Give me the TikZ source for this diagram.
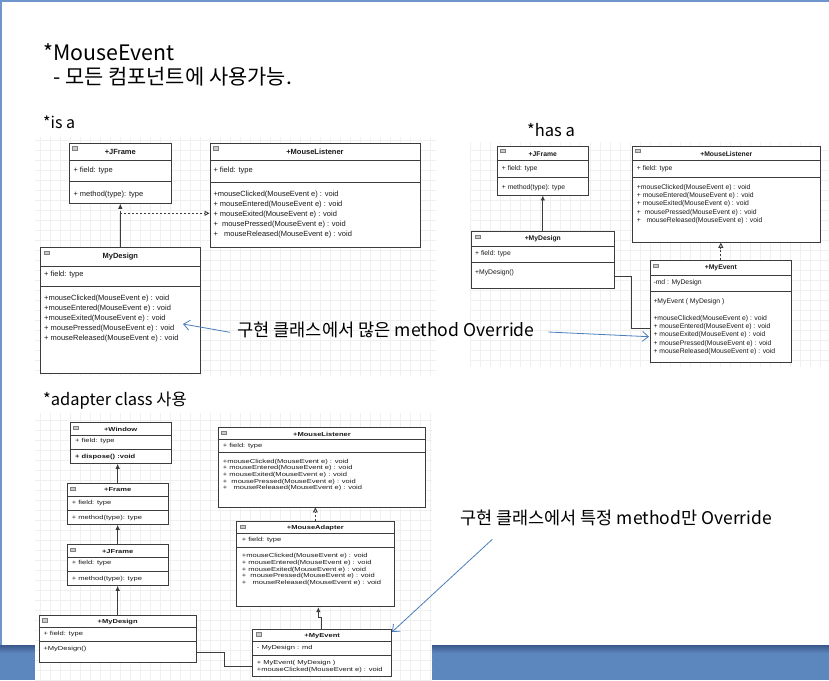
\documentclass[tikz,border=0pt]{standalone}
\usepackage{fontspec}
\setmainfont{Liberation Sans}
\newfontfamily\kr{Noto Sans CJK KR}
\newfontfamily\bfn[FakeStretch=1.3]{Liberation Sans}
\usetikzlibrary{arrows.meta,fit}
\definecolor{ln}{RGB}{60,60,60}
\definecolor{tx}{RGB}{25,25,25}
\definecolor{ab}{RGB}{74,126,187}
\definecolor{band}{RGB}{92,134,190}
\definecolor{bandd}{RGB}{58,88,138}
\definecolor{grd}{RGB}{240,240,240}
\definecolor{brd}{RGB}{110,150,205}
\tikzset{
  umlbox/.style={draw=ln, line width=0.9pt, inner sep=0pt, fill=white},
  uline/.style={draw=ln, line width=0.9pt},
  ic/.style={draw=gray, fill=gray!40, line width=0.4pt},
  ta/.style={inner sep=0pt, text=tx, font=\fontsize{7.5}{9}\selectfont},
  tah/.style={inner sep=0pt, text=tx, font=\bfseries\fontsize{7.5}{9}\selectfont},
  tb/.style={inner sep=0pt, text=tx, font=\fontsize{6.8}{8}\selectfont},
  tbh/.style={inner sep=0pt, text=tx, font=\bfseries\fontsize{6.8}{8}\selectfont},
  tc/.style={inner sep=0pt, text=tx, font=\bfn\fontsize{5.8}{7}\selectfont},
  tch/.style={inner sep=0pt, text=tx, font=\bfn\bfseries\fontsize{5.8}{7}\selectfont},
  gen/.style={draw=ln, line width=0.9pt, -{Latex[length=5pt,width=4.5pt]}},
  real/.style={draw=ln, line width=0.9pt, dashed, dash pattern=on 2pt off 2pt, -{Triangle[open,length=5pt,width=5pt]}},
  aarr/.style={draw=ab, line width=0.8pt, -{Straight Barb[length=6pt,width=10pt]}},
  krt/.style={inner sep=0pt, anchor=base west, text=black},
}
\newcommand\umlc[7]{%
  \node[umlbox, fit={(#2,#3)(#4,#5)}] (#1) {};
  \draw[uline] (#2,#6) -- (#4,#6);
  \draw[uline] (#2,#7) -- (#4,#7);
  \draw[ic] (#2+3,#3+3) rectangle ++(5,3.5);
}
\newcommand\mlines[6]{%
  \foreach \s [count=\i] in #2 {\node[#6, anchor=west] (#1\i) at (#3, {#4+(\i-1)*#5}) {\s};}%
}
\def\mlListener{{+mouseClicked(MouseEvent e) : void},{+ mouseEntered(MouseEvent e) : void},{+ mouseExited(MouseEvent e) : void},{+\ \ mousePressed(MouseEvent e) : void},{+\ \ \ mouseReleased(MouseEvent e) : void}}
\def\mlDesign{{+mouseClicked(MouseEvent e) : void},{+mouseEntered(MouseEvent e) : void},{+mouseExited(MouseEvent e) : void},{+ mousePressed(MouseEvent e) : void},{+ mouseReleased(MouseEvent e) : void}}
\def\mlEvent{{+mouseClicked(MouseEvent e) : void},{+ mouseEntered(MouseEvent e) : void},{+ mouseExited(MouseEvent e) : void},{+ mousePressed(MouseEvent e) : void},{+ mouseReleased(MouseEvent e) : void}}
\begin{document}
\begin{tikzpicture}[x=1pt,y=-1pt]
\useasboundingbox (0,0) rectangle (829,680);
\fill[white] (0,0) rectangle (829,680);
% slide border and bottom band
\fill[brd] (0,0) rectangle (829,1.5);
\fill[brd] (0,0) rectangle (1.5,680);
\fill[band] (0,645) rectangle (829,680);
\shade[top color=bandd, bottom color=band] (0,645) rectangle (829,653);
% screenshot backgrounds with grid
\begin{scope}
  \clip (35,137) rectangle (436,375);
  \fill[white] (35,137) rectangle (436,375);
  \draw[grd, line width=0.5pt, step=10pt] (30,130) grid (440,380);
\end{scope}
\begin{scope}
  \clip (470,142) rectangle (829,366);
  \fill[white] (470,142) rectangle (829,366);
  \draw[grd, line width=0.5pt, step=10pt] (460,140) grid (830,370);
\end{scope}
\begin{scope}
  \clip (35,413) rectangle (432,680);
  \fill[white] (35,413) rectangle (432,680);
  \draw[grd, line width=0.5pt, step=10pt] (30,410) grid (440,680);
\end{scope}
% titles
\node[krt, font=\kr\fontsize{21.3}{25}\selectfont] (t1) at (43,60) {*MouseEvent};
\node[krt, font=\kr\fontsize{20.9}{25}\selectfont] (t2) at (53,84) {- 모든 컴포넌트에 사용가능.};
\node[krt, font=\kr\fontsize{16}{19}\selectfont] (t3) at (43,128) {*is a};
\node[krt, font=\kr\fontsize{16.5}{19}\selectfont] (t4) at (527,136) {*has a};
\node[krt, font=\kr\fontsize{16.5}{19}\selectfont] (t5) at (43,405) {*adapter class 사용};
% ---------- top-left: is a ----------
\umlc{tlJF}{69.3}{143.3}{171.3}{203.3}{160.3}{181.7}
\node[tah] (tlJFn) at (120.3,152.3) {+JFrame};
\node[ta,anchor=west] (tlJFf) at (73.3,171) {+ field: type};
\node[ta,anchor=west] (tlJFm) at (73.3,194.3) {+ method(type): type};
\umlc{tlML}{210}{143.3}{420}{247.7}{160.3}{182.3}
\node[tah] (tlMLn) at (315,152.3) {+MouseListener};
\node[ta,anchor=west] (tlMLf) at (213.3,171) {+ field: type};
\mlines{tlMLm}{\mlListener}{213.3}{194.3}{10}{ta}
\umlc{tlMD}{40.7}{247.7}{200}{373.3}{266}{286}
\node[tah] (tlMDn) at (120.3,256.7) {MyDesign};
\node[ta,anchor=west] (tlMDf) at (44,275) {+ field: type};
\mlines{tlMDm}{\mlDesign}{44}{298.3}{10}{ta}
\coordinate (tlJ) at (120.3,213.3);
\draw[uline] (tlMD.north) -- (tlJ);
\draw[gen, dashed, dash pattern=on 2pt off 2pt] (tlJ) -- (tlJF.south);
\draw[real] (tlJ) -- (tlJ -| tlML.west);
% ---------- top-right: has a ----------
\umlc{trJF}{497.3}{146}{588.3}{195}{160.7}{177.7}
\node[tbh] (trJFn) at (542.8,154) {+JFrame};
\node[tb,anchor=west] (trJFf) at (501.7,168.3) {+ field: type};
\node[tb,anchor=west] (trJFm) at (501.7,187.7) {+ method(type): type};
\umlc{trML}{632.3}{146}{820.3}{242.3}{160.7}{177.7}
\node[tbh] (trMLn) at (726.3,154) {+MouseListener};
\node[tb,anchor=west] (trMLf) at (636.7,168.3) {+ field: type};
\mlines{trMLm}{\mlListener}{636.7}{187.3}{8.35}{tb}
\umlc{trMD}{471.7}{231.7}{614}{288.3}{246.7}{262.7}
\node[tbh] (trMDn) at (542.8,238.7) {+MyDesign};
\node[tb,anchor=west] (trMDf) at (475,254) {+ field: type};
\node[tb,anchor=west] (trMDm) at (475,273) {+MyDesign()};
\umlc{trME}{650}{260.7}{791.7}{362.7}{275.7}{291}
\node[tbh] (trMEn) at (720.8,267.7) {+MyEvent};
\node[tb,anchor=west] (trMEf) at (653.3,282.7) {-md : MyDesign};
\node[tb,anchor=west] (trMEc) at (653.3,301.7) {+MyEvent ( MyDesign )};
\mlines{trMEm}{\mlEvent}{653.3}{318.3}{8.35}{tb}
\draw[gen] (trMD.north) -- (trMD.north |- trJF.south);
\draw[real] (trME.north) -- (trME.north |- trML.south);
\coordinate (trA) at (614,276.7);
\coordinate (trB) at (650,328.3);
\draw[uline] (trA) -- (631.7,276.7) |- (trB);
% ---------- bottom: adapter ----------
\umlc{bWI}{70}{422.7}{171.3}{463.3}{435}{449.3}
\node[tch] (bWIn) at (120.7,429.3) {+Window};
\node[tc,anchor=west] (bWIf) at (75,441) {+ field: type};
\node[tch,anchor=west] (bWIm) at (75,457.2) {+ dispose() :void};
\umlc{bFR}{67.3}{483.7}{168}{524.3}{496}{510.3}
\node[tch] (bFRn) at (117.7,490) {+Frame};
\node[tc,anchor=west] (bFRf) at (71.7,502.7) {+ field: type};
\node[tc,anchor=west] (bFRm) at (71.7,518) {+ method(type): type};
\umlc{bJF}{67.3}{544.7}{168}{585.3}{557.3}{571.3}
\node[tch] (bJFn) at (117.7,551.7) {+JFrame};
\node[tc,anchor=west] (bJFf) at (71.7,563.3) {+ field: type};
\node[tc,anchor=west] (bJFm) at (71.7,579) {+ method(type): type};
\umlc{bMD}{39}{615.3}{196.3}{662}{627.7}{641.7}
\node[tch] (bMDn) at (117.7,621.7) {+MyDesign};
\node[tc,anchor=west] (bMDf) at (43.3,634) {+ field: type};
\node[tc,anchor=west] (bMDm) at (43.3,649.3) {+MyDesign()};
\umlc{bML}{218.3}{427.7}{425.7}{507}{439.3}{452.3}
\node[tch] (bMLn) at (322,434) {+MouseListener};
\node[tc,anchor=west] (bMLf) at (222.7,446) {+ field: type};
\mlines{bMLm}{\mlListener}{222.7}{461.7}{6.65}{tc}
\umlc{bMA}{236.7}{521.7}{394}{606.7}{533.3}{547.7}
\node[tch] (bMAn) at (315.3,527.7) {+MouseAdapter};
\node[tc,anchor=west] (bMAf) at (241.7,540.3) {+ field: type};
\mlines{bMAm}{\mlListener}{241.7}{555.7}{6.9}{tc}
\umlc{bME}{252.7}{629.3}{391.7}{676.7}{641.7}{655}
\node[tch] (bMEn) at (322.2,635.7) {+MyEvent};
\node[tc,anchor=west] (bMEf) at (256.7,647.7) {- MyDesign : md};
\node[tc,anchor=west] (bMEc) at (256.7,663.3) {+ MyEvent( MyDesign )};
\node[tc,anchor=west] (bMEm) at (256.7,670) {+mouseClicked(MouseEvent e) : void};
\draw[gen] (bFR.north) -- (bFR.north |- bWI.south);
\draw[gen] (bJF.north) -- (bJF.north |- bFR.south);
\draw[gen] (bMD.north) -- (bMD.north |- bJF.south);
\draw[real] (bMA.north) -- (bMA.north |- bML.south);
\draw[gen] ([xshift=-0.5pt]bME.north) -- ++(0,-11) -| ([xshift=3pt]bMA.south);
\coordinate (bA) at (196.3,652.7);
\coordinate (bB) at (252.7,666);
\draw[uline] (bA) -- (224.3,652.7) |- (bB);
% ---------- annotations ----------
\node[krt, font=\kr\fontsize{17.6}{21}\selectfont] (ann1) at (237,336.5) {구현 클래스에서 많은 method Override};
\coordinate (a1s) at (230,332.3);
\coordinate (a1e) at (183,324);
\draw[aarr] (a1s) -- (a1e);
\coordinate (a2s) at (548.3,332);
\coordinate (a2e) at (649,336.7);
\draw[aarr] (a2s) -- (a2e);
\node[krt, font=\kr\fontsize{17.5}{21}\selectfont] (ann2) at (460,524.3) {구현 클래스에서 특정 method만 Override};
\coordinate (a3s) at (492.3,539.3);
\coordinate (a3e) at (392,632);
\draw[aarr] (a3s) -- (a3e);
\end{tikzpicture}
\end{document}
